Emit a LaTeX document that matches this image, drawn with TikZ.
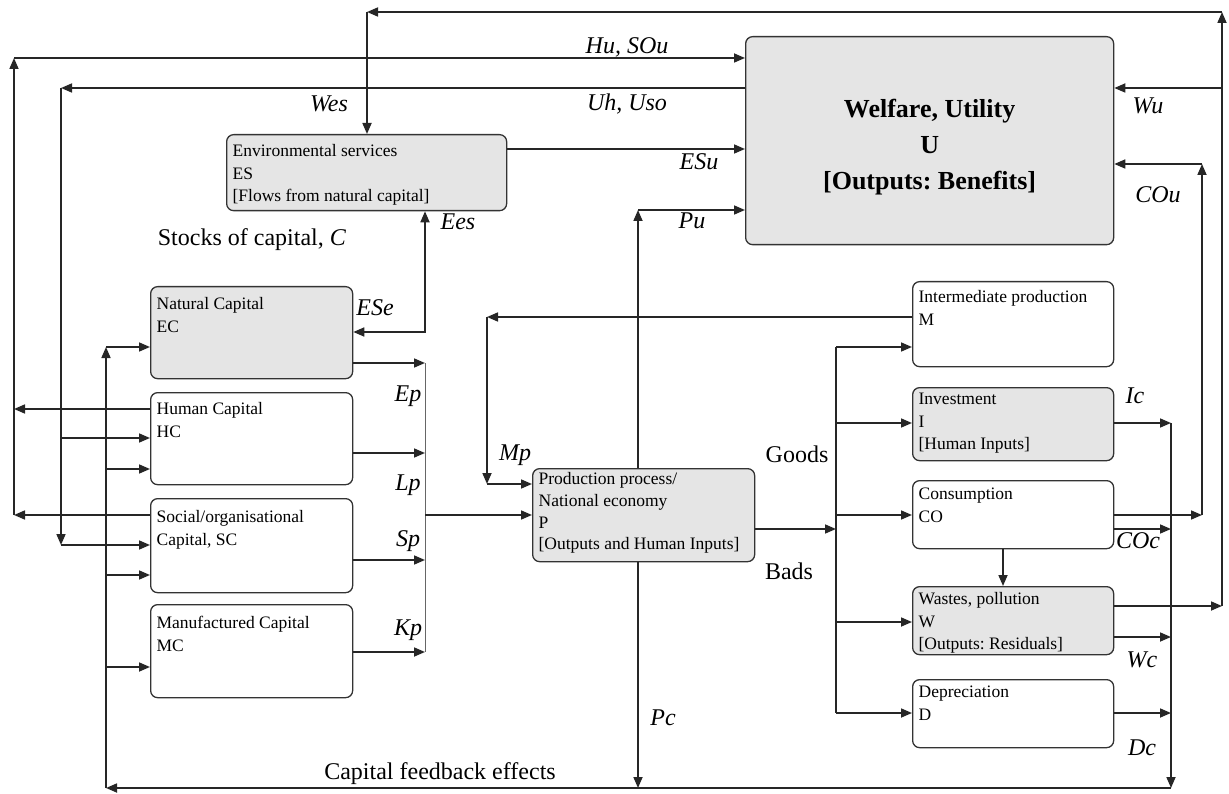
\documentclass[tikz,border=0pt]{standalone}
\usepackage{fontspec}
\setmainfont{Liberation Serif}
\usetikzlibrary{arrows.meta}
\frenchspacing
\newcommand{\bxt}[4][19pt]{\parbox[c][#3][t]{#2}{\frenchspacing\rule{0pt}{#1}#4}}
\begin{document}
\begin{tikzpicture}[x=1pt,y=-1pt,
  line/.style={line width=1.7pt, draw=black!85},
  thinline/.style={line width=1pt, draw=black!60},
  arr/.style={line, -{Triangle[length=11pt,width=9pt]}},
  dblarr/.style={line, {Triangle[length=11pt,width=9pt]}-{Triangle[length=11pt,width=9pt]}},
  cbox/.style={draw=black!80, line width=1.3pt, rounded corners=7pt, anchor=north west,
    inner xsep=6pt, inner ysep=4pt, font=\fontsize{17.5}{22.5}\selectfont},
  gbox/.style={cbox, fill=black!10},
  wbox/.style={cbox, fill=white},
  lab/.style={font=\fontsize{24}{28}\selectfont\itshape, inner sep=0pt},
  txt/.style={font=\fontsize{24}{28}\selectfont, inner sep=0pt},
]
\useasboundingbox (0,0) rectangle (1229,794);

% ---------- boxes ----------
\node[gbox] (ES) at (226,134) {\bxt[18pt]{268pt}{68pt}{Environmental services\\ES\\{[}Flows from natural capital{]}}};
\node[gbox, minimum width=368pt, minimum height=208pt] (U) at (745,36)
  {\parbox[c][200pt][c]{356pt}{\centering\frenchspacing\fontsize{26}{36}\selectfont\bfseries\vspace*{12pt}Welfare, Utility\\U\\{[}Outputs: Benefits{]}}};
\node[gbox] (EC) at (150,286) {\bxt[19pt]{190pt}{84pt}{Natural Capital\\EC}};
\node[wbox] (HC) at (150,392) {\bxt[18pt]{190pt}{84pt}{Human Capital\\HC}};
\node[wbox] (SC) at (150,498) {\bxt[20pt]{190pt}{86pt}{Social/organisational\\Capital, SC}};
\node[wbox] (MC) at (150,604) {\bxt[20pt]{190pt}{85pt}{Manufactured Capital\\MC}};
\node[gbox, font=\fontsize{17.5}{21.7}\selectfont] (P) at (532,468) {\bxt[12pt]{210pt}{85pt}{Production process/\\National economy\\P\\{[}Outputs and Human Inputs{]}}};
\node[wbox] (M) at (912,281) {\bxt[17pt]{189pt}{77pt}{Intermediate production\\M}};
\node[gbox] (I) at (912,387) {\bxt[13pt]{189pt}{65pt}{Investment\\I\\{[}Human Inputs{]}}};
\node[wbox] (CO) at (912,480) {\bxt[15pt]{189pt}{60pt}{Consumption\\CO}};
\node[gbox] (W) at (912,586) {\bxt[14pt]{189pt}{60pt}{Wastes, pollution\\W\\{[}Outputs: Residuals{]}}};
\node[wbox] (D) at (912,679) {\bxt[14pt]{189pt}{60pt}{Depreciation\\D}};

% ---------- routing points ----------
\coordinate (tR) at (1222,12);
\coordinate (tL) at (367,12);
\coordinate (wW) at (1222,606);
\coordinate (wU) at (1222,88);
\coordinate (cCO) at (1202,515);
\coordinate (cU) at (1202,164);
\coordinate (hTop) at (14,58);
\coordinate (hHC) at (14,409);
\coordinate (hSC) at (14,515);
\coordinate (uTop) at (61,88);
\coordinate (uHC) at (61,438);
\coordinate (uSC) at (61,545);
\coordinate (esu) at (600,149);
\coordinate (pTop) at (638,210);
\coordinate (pBot) at (638,788);
\coordinate (eC) at (425,332);
\coordinate (kE) at (425,363);
\coordinate (kL) at (425,453);
\coordinate (kS) at (425,560);
\coordinate (kK) at (425,652);
\coordinate (kP) at (425,515);
\coordinate (mL) at (487,317);
\coordinate (mB) at (487,484);
\coordinate (dP) at (836,529);
\coordinate (dM) at (836,347);
\coordinate (dI) at (836,423);
\coordinate (dCO) at (836,515);
\coordinate (dW) at (836,622);
\coordinate (dD) at (836,713);
\coordinate (cw) at (1003,500);
\coordinate (rI) at (1171,423);
\coordinate (rCO) at (1171,529);
\coordinate (rW) at (1171,637);
\coordinate (rD) at (1171,713);
\coordinate (rB) at (1171,788);
\coordinate (fB) at (106,788);
\coordinate (fEC) at (106,347);
\coordinate (fHC) at (106,469);
\coordinate (fSC) at (106,575);
\coordinate (fMC) at (106,667);

% ---------- connectors ----------
\draw[arr] (W.east |- wW) -- (wW);
\draw[arr] (wW) -- (tR);
\draw[arr] (tR) -- (tL);
\draw[arr] (tL) -- (tL |- ES.north);
\draw[arr] (wU) -- (wU -| U.east);
\draw[arr] (CO.east |- cCO) -- (cCO);
\draw[arr] (cCO) -- (cU);
\draw[arr] (cU) -- (cU -| U.east);
\draw[arr] (HC.west |- hHC) -- (hHC);
\draw[arr] (SC.west |- hSC) -- (hSC);
\draw[arr] (hSC) -- (hTop);
\draw[arr] (hTop) -- (hTop -| U.west);
\draw[arr] (U.west |- uTop) -- (uTop);
\draw[arr] (uTop) -- (uSC);
\draw[arr] (uSC) -- (uSC -| SC.west);
\draw[arr] (uHC) -- (uHC -| HC.west);
\draw[arr] (ES.east |- esu) -- (esu -| U.west);
\draw[arr] (P.north -| pTop) -- (pTop);
\draw[arr] (pTop) -- (pTop -| U.west);
\draw[arr] (P.south -| pBot) -- (pBot);
\draw[dblarr] (EC.east |- eC) -- (eC) -- (eC |- ES.south);
\draw[arr] (EC.east |- kE) -- (kE);
\draw[arr] (HC.east |- kL) -- (kL);
\draw[arr] (SC.east |- kS) -- (kS);
\draw[arr] (MC.east |- kK) -- (kK);
\draw[thinline] (kE) -- (kK);
\draw[arr] (kP) -- (kP -| P.west);
\draw[arr] (M.west |- mL) -- (mL);
\draw[arr] (mL) -- (mB);
\draw[arr] (mB) -- (mB -| P.west);
\draw[arr] (P.east |- dP) -- (dP);
\draw[line] (dM) -- (dD);
\draw[arr] (dM) -- (dM -| M.west);
\draw[arr] (dI) -- (dI -| I.west);
\draw[arr] (dCO) -- (dCO -| CO.west);
\draw[arr] (dW) -- (dW -| W.west);
\draw[arr] (dD) -- (dD -| D.west);
\draw[arr] (CO.south -| cw) -- (W.north -| cw);
\draw[arr] (I.east |- rI) -- (rI);
\draw[arr] (CO.east |- rCO) -- (rCO);
\draw[arr] (W.east |- rW) -- (rW);
\draw[arr] (D.east |- rD) -- (rD);
\draw[arr] (rI) -- (rB);
\draw[arr] (rB) -- (fB);
\draw[arr] (fB) -- (fEC);
\draw[arr] (fEC) -- (fEC -| EC.west);
\draw[arr] (fHC) -- (fHC -| HC.west);
\draw[arr] (fSC) -- (fSC -| SC.west);
\draw[arr] (fMC) -- (fMC -| MC.west);

% ---------- labels ----------
\node[lab] (lHu) at (627,47) {Hu, SOu};
\node[lab] (lUh) at (627,104) {Uh, Uso};
\node[lab] (lWes) at (329,104) {Wes};
\node[lab] (lESu) at (699,162) {ESu};
\node[lab] (lPu) at (692,221) {Pu};
\node[lab] (lEes) at (458,222) {Ees};
\node[lab] (lESe) at (375,308) {ESe};
\node[lab] (lWu) at (1148,106) {Wu};
\node[lab] (lCOu) at (1158,195) {COu};
\node[lab] (lEp) at (408,396) {Ep};
\node[lab] (lLp) at (408,485) {Lp};
\node[lab] (lSp) at (408,541) {Sp};
\node[lab] (lKp) at (408,630) {Kp};
\node[lab] (lMp) at (515,455) {Mp};
\node[txt] (lGoods) at (797,454) {Goods};
\node[txt] (lBads) at (789,571) {Bads};
\node[lab] (lIc) at (1135,396) {Ic};
\node[lab] (lCOc) at (1138,541) {COc};
\node[lab] (lWc) at (1142,660) {Wc};
\node[lab] (lDc) at (1142,748) {Dc};
\node[lab] (lPc) at (663,718) {Pc};
\node[txt] (lStocks) at (252,240) {Stocks of capital, \textit{C}};
\node[txt] (lFeed) at (440,774) {Capital feedback effects};
\end{tikzpicture}
\end{document}
